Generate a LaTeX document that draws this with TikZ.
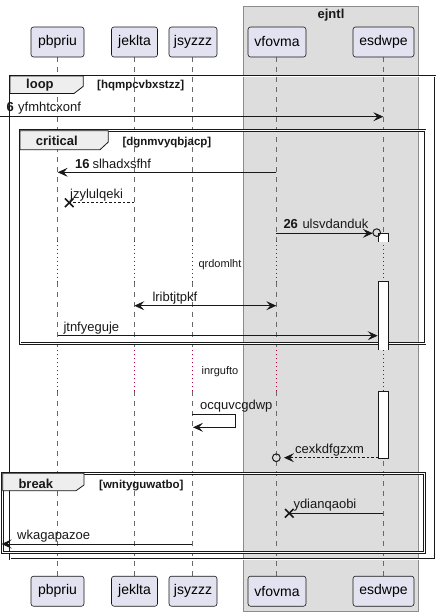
\documentclass[tikz,border=0pt]{standalone}
\usepackage{fontspec}
\setmainfont{Liberation Sans}
\usetikzlibrary{arrows.meta}
\definecolor{partfill}{RGB}{226,226,240}
\definecolor{boxfill}{RGB}{221,221,221}
\definecolor{boxline}{RGB}{140,140,140}
\definecolor{tabfill}{RGB}{238,238,238}
\definecolor{ink}{RGB}{24,24,24}
\definecolor{delayc}{RGB}{168,0,54}
\newcommand\fpart{\fontsize{14}{16}\selectfont}
\newcommand\fmsg{\fontsize{13}{15}\selectfont}
\newcommand\fsmall{\fontsize{11}{13}\selectfont}
\newcommand\fcond{\fontsize{11.5}{13}\selectfont}
\begin{document}
\begin{tikzpicture}[x=1pt,y=-1pt,
  part/.style={draw=ink, fill=partfill, rounded corners=2.5pt, line width=0.6pt,
    minimum height=30pt, inner sep=0pt, font=\fpart},
  life/.style={draw=ink!65, line width=0.6pt, dash pattern=on 5pt off 5pt},
  delayline/.style={draw=delayc, line width=1.1pt, dash pattern=on 1.2pt off 2.8pt},
  frame/.style={draw=ink, line width=1pt, double=white, double distance=0.5pt},
  tab/.style={draw=ink, fill=tabfill, line width=0.8pt},
  msg/.style={draw=ink, line width=0.8pt, -{Stealth[length=10pt,width=9pt,inset=4pt]}},
  dmsg/.style={msg, dash pattern=on 2.5pt off 2pt},
  bmsg/.style={draw=ink, line width=0.8pt, {Stealth[length=10pt,width=9pt,inset=4pt]}-{Stealth[length=10pt,width=9pt,inset=4pt]}},
  lbl/.style={anchor=base west, inner sep=0pt, font=\fmsg, text=ink},
  num/.style={anchor=base west, inner sep=0pt, font=\bfseries\fmsg, text=ink},
  tabtxt/.style={anchor=base west, inner sep=0pt, font=\bfseries\fmsg, text=ink},
  cond/.style={anchor=base west, inner sep=0pt, font=\bfseries\fcond, text=ink},
  dtxt/.style={anchor=base, inner sep=0pt, font=\fsmall, text=ink},
  act/.style={draw=ink, line width=0.8pt},
  xmark/.style={draw=ink, line width=1.6pt},
  circ/.style={draw=ink, line width=1pt}
]
\useasboundingbox (0,0) rectangle (439,616);
\fill[white] (0,0) rectangle (439,616);

% box ejntl
\draw[draw=boxline, fill=boxfill, line width=0.7pt] (243,6) rectangle (418,611);
\node[font=\bfseries\fmsg, text=ink] (ejntl) at (331,15) {ejntl};

% lifelines
\foreach \x in {57.7,134.3,192.3,276.3,383.3} {
  \draw[life] (\x,57) -- (\x,241);
  \draw[delayline] (\x,241) -- (\x,281.7);
  \draw[life] (\x,281.7) -- (\x,350);
  \draw[delayline] (\x,350) -- (\x,391);
  \draw[life] (\x,391) -- (\x,575.7);
}

% delay texts
\node[dtxt] (d1) at (220,267) {qrdomlht};
\node[dtxt] (d2) at (220,374) {inrgufto};

% loop frame
\draw[frame] (10,76) rectangle (435,559);
\filldraw[tab] (10,76) -- (83.3,76) -- (83.3,86.3) -- (74,93.5) -- (10,93.5) -- cycle;
\node[tabtxt] (tloop) at (26,88.7) {loop};
\node[cond] (cloop) at (97,88.3) {[hqmpcvbxstzz]};

% message 6
\coordinate (m6a) at (0,116.7);
\coordinate (m6b) at (383.3,116.7);
\draw[msg] (m6a) -- (m6b);
\node[num] (n6) at (6.5,111.7) {6};
\node[lbl] (l6) at (18,111.7) {yfmhtcxonf};

% critical frame
\draw[frame] (20,130.7) rectangle (425,343.3);
\filldraw[tab] (20,130.7) -- (108.3,130.7) -- (108.3,142) -- (100,149.7) -- (20,149.7) -- cycle;
\node[tabtxt] (tcrit) at (35.7,145.3) {critical};
\node[cond] (ccrit) at (122.3,145) {[dgnmvyqbjacp]};

% message 16
\coordinate (m16a) at (276.3,172.3);
\coordinate (m16b) at (57.7,172.3);
\draw[msg] (m16a) -- (m16b);
\node[num] (n16) at (75,168) {16};
\node[lbl] (l16) at (92.3,168) {slhadxsfhf};

% message jzylulqeki (dashed, destroy)
\coordinate (mja) at (134.3,202.7);
\coordinate (mjb) at (69.3,202.7);
\draw[draw=ink, line width=0.8pt, dash pattern=on 2.5pt off 2pt] (mja) -- (mjb);
\draw[xmark] (65,198.4) -- (73.6,207);
\draw[xmark] (65,207) -- (73.6,198.4);
\node[lbl] (lj) at (70,198.2) {jzylulqeki};

% activation bars
\fill[white] (378,233.3) rectangle (388.5,241.7);
\draw[act] (378,241.7) -- (378,233.3) -- (388.5,233.3) -- (388.5,241.7);
\fill[white] (378,281.7) rectangle (388.5,350);
\draw[act] (378,350) -- (378,281.7) -- (388.5,281.7) -- (388.5,350);
\fill[white] (378,391) rectangle (388.5,458.3);
\draw[act] (378,391) rectangle (388.5,458.3);

% message 26
\coordinate (m26a) at (276.3,233.3);
\coordinate (m26b) at (372.8,233.3);
\draw[msg] (m26a) -- (m26b);
\draw[circ] (376.7,232.6) circle (3.8pt);
\node[num] (n26) at (283.3,228.8) {26};
\node[lbl] (l26) at (302.3,228.8) {ulsvdanduk};

% lribtjtpkf
\coordinate (mla) at (134.3,305.7);
\coordinate (mlb) at (276.3,305.7);
\draw[bmsg] (mla) -- (mlb);
\node[lbl] (ll) at (152.3,301) {lribtjtpkf};

% jtnfyeguje
\coordinate (mta) at (57.7,335.7);
\coordinate (mtb) at (377.7,335.7);
\draw[msg] (mta) -- (mtb);
\node[lbl] (lt) at (63.3,331) {jtnfyeguje};

% self message ocquvcgdwp
\coordinate (moa) at (192.3,414.3);
\coordinate (mob) at (235.5,414.3);
\coordinate (moc) at (235.5,427.3);
\coordinate (mod) at (193,427.3);
\draw[msg] (moa) -- (mob) -- (moc) -- (mod);
\node[lbl] (lo) at (200,409.3) {ocquvcgdwp};

% cexkdfgzxm
\coordinate (mca) at (378,457.7);
\coordinate (mcb) at (284,457.7);
\draw[dmsg] (mca) -- (mcb);
\draw[circ] (276.3,457.7) circle (3.9pt);
\node[lbl] (lc) at (295,453) {cexkdfgzxm};

% break frame
\draw[frame] (2.7,473.3) rectangle (424.3,552.3);
\filldraw[tab] (2.7,473.3) -- (84,473.3) -- (84,485) -- (76,490.7) -- (2.7,490.7) -- cycle;
\node[tabtxt] (tbrk) at (18.3,488.3) {break};
\node[cond] (cbrk) at (99,488) {[wnityguwatbo]};

% ydianqaobi
\coordinate (mya) at (383.3,513.3);
\coordinate (myb) at (289.3,513.3);
\draw[draw=ink, line width=0.8pt] (mya) -- (myb);
\draw[xmark] (285,509) -- (293.6,517.6);
\draw[xmark] (285,517.6) -- (293.6,509);
\node[lbl] (ly) at (293.3,508.8) {ydianqaobi};

% wkagapazoe
\coordinate (mwa) at (192.3,544);
\coordinate (mwb) at (1.5,544);
\draw[msg] (mwa) -- (mwb);
\node[lbl] (lw) at (17,539.3) {wkagapazoe};

% participants
\node[part, minimum width=53pt] (pa) at (57.5,42) {pbpriu};
\node[part, minimum width=46pt] (pb) at (134.5,42) {jeklta};
\node[part, minimum width=48pt] (pc) at (193,42) {jsyzzz};
\node[part, minimum width=58pt] (pd) at (277,42) {vfovma};
\node[part, minimum width=61pt] (pe) at (383.5,42) {esdwpe};
\node[part, minimum width=53pt] (pa2) at (57.5,591.2) {pbpriu};
\node[part, minimum width=46pt] (pb2) at (134.5,591.2) {jeklta};
\node[part, minimum width=48pt] (pc2) at (193,591.2) {jsyzzz};
\node[part, minimum width=58pt] (pd2) at (277,591.2) {vfovma};
\node[part, minimum width=61pt] (pe2) at (383.5,591.2) {esdwpe};
\end{tikzpicture}
\end{document}
